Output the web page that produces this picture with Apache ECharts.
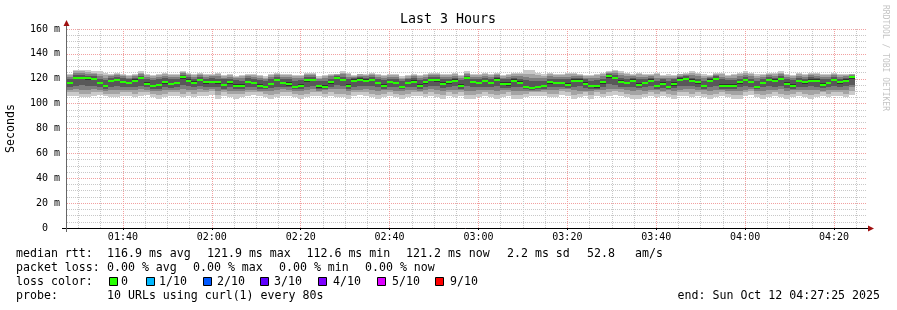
<!DOCTYPE html>
<html><head><meta charset="utf-8">
<script src="https://cdn.jsdelivr.net/npm/echarts@6/dist/echarts.min.js"></script>
<style>html,body{margin:0;padding:0;background:#fff}#c{width:897px;height:310px}</style>
</head><body><div id="c"></div>
<script>
// ---------- data ----------
const chartTitle = 'Last 3 Hours';
const startTime = '01:27:25';
const endTime = '04:27:25';
const stepSeconds = 80;
const timeTickLabels = ['01:40','02:00','02:20','02:40','03:00','03:20','03:40','04:00','04:20'];

const median = [116.6,120.7,120.7,120.5,119.9,116.4,113.9,118.0,119.3,117.7,
116.9,118.5,120.4,115.8,113.9,115.0,117.2,115.8,116.6,121.2,
118.5,116.9,119.0,117.2,117.2,117.2,115.0,117.2,114.5,114.5,
117.7,116.4,114.5,113.1,115.8,119.0,116.6,115.8,113.1,114.5,
119.0,119.0,113.9,113.6,117.2,120.7,119.0,114.5,118.5,119.3,
118.5,119.3,116.4,114.5,117.4,116.6,113.6,116.4,117.7,114.5,
117.2,119.0,119.0,115.8,117.2,118.5,114.5,120.7,117.2,116.4,
118.0,116.4,119.3,115.8,115.8,118.5,116.9,113.1,112.6,113.1,
113.9,117.2,116.4,116.6,115.3,118.5,118.5,115.8,113.9,113.9,
117.2,121.9,120.7,117.7,116.4,118.5,115.3,116.4,118.5,113.9,
115.8,113.6,115.8,119.3,119.9,118.5,117.2,113.9,118.5,119.9,
114.5,114.5,114.5,117.2,119.0,117.2,113.1,116.4,119.0,118.5,
119.9,115.8,114.5,118.0,117.2,118.5,118.5,115.3,116.4,119.0,
117.2,118.5,121.2];

// sorted ping values per step (1 = fastest ... 10 = slowest)
const ping1 = [106,106,105,105,106,107,106,105,105,106,
106,105,106,107,105,104,105,106,106,105,
106,105,106,106,107,104,106,105,104,105,
106,107,106,105,104,105,106,106,105,104,
105,106,106,105,106,105,105,104,106,107,
106,105,104,105,106,105,104,105,106,106,
105,106,105,104,106,105,106,104,104,105,
106,105,104,105,106,104,104,105,106,106,
106,105,105,107,106,104,105,106,104,106,
105,106,107,106,105,104,104,105,106,105,
106,105,104,106,106,105,106,105,104,105,
106,105,104,104,106,107,105,104,105,106,
105,104,105,106,105,104,105,106,105,106,
106,105,107];
const ping2 = [109,109,108,108,109,109,108,108,108,109,
109,108,109,109,108,107,108,109,109,108,
109,108,109,109,110,107,109,108,108,108,
109,109,109,108,107,108,109,109,108,107,
108,109,109,108,109,108,108,107,109,109,
109,108,107,108,109,108,107,108,109,109,
108,109,108,107,109,108,109,107,107,108,
109,108,107,108,109,107,107,108,109,109,
109,108,108,110,109,107,108,109,107,109,
108,109,110,109,108,107,107,108,109,108,
109,108,107,109,109,108,109,108,107,108,
109,108,107,107,109,110,108,107,108,109,
108,107,108,109,108,107,108,109,108,109,
109,108,110];
const ping3 = [111,112,111,111,112,111,110,111,111,111,
111,111,112,111,110,110,111,111,111,112,
111,111,112,111,112,110,111,110,110,110,
111,111,110,110,110,111,112,111,110,110,
111,112,110,111,112,112,112,110,111,111,
112,111,110,111,111,110,110,111,111,110,
111,112,111,110,111,111,111,110,110,111,
111,111,110,111,111,110,110,110,110,110,
111,111,111,112,112,111,110,110,110,111,
111,112,112,112,111,110,111,110,111,111,
110,111,110,111,112,112,111,111,110,111,
111,110,110,110,111,112,110,110,111,111,
112,110,111,111,111,111,111,110,111,111,
111,111,113];
const ping4 = [113.5,114.5,115,114,114.5,113,112,113.5,114,113,
113.5,113,114.5,113,111.5,112,113,112.5,113,115,
114,113,114,113.5,113,113.5,112,113,112,111.5,
113,113,112,111.5,112.5,113.5,113.5,113,111.5,112,
113.5,114,112,112,113.5,115,114.5,112,113.5,114,
114,114.5,113,112,113,113,112,113,113.5,112,
113,114,114,112.5,113,114,112,114.5,113.5,113,
113.5,113,114,112.5,112.5,113.5,113,111.5,111,111.5,
112,113,113,113.5,112.5,113.5,114,112.5,112,112,
113,115.5,115,113.5,113,113.5,112.5,113,114,112,
112.5,112,112.5,114,114.5,114,113,112,113.5,114.5,
112,112,112,113,114,113.5,111.5,113,114,113.5,
114.5,112.5,112,113.5,113,114,113.5,112.5,113,114,
113,114,115];
const ping5 = [115.5,119.5,120,119,119,115.5,113,117,118,116.5,
116,117.5,119.5,115,113,114,116,115,115.5,120,
117.5,116,118,116,116.5,116,114,116,113.5,113.5,
116.5,115.5,113.5,112.3,115,118,115.5,114.5,112.3,113.5,
117.5,118,112.8,112.6,116,119.5,118,113.5,117.5,118,
117.5,118,115.5,113.5,116.5,115.5,112.7,115.5,116.5,113.5,
116,118,117.5,115,116,117.5,113.5,119.5,116.5,115.5,
117,115.5,118,115,114.5,117.5,116,112.3,111.8,112.3,
113,116,115.5,115.5,114.5,117.5,117.5,115,113,112.8,
116,120.5,119.5,116.5,115.5,117.5,114.5,115.5,117.5,113,
115,112.7,114.5,118,119,117.5,116,113,117.5,119,
113.5,113.5,113.5,116,118,116.5,112.3,115.5,118,117.5,
119,115,113.5,117,116,117.5,117.5,114.5,115.5,118,
116,117.5,120];
const ping6 = [117.5,121.5,121.5,121.5,120.5,117.5,115,119,120,118.5,
117.5,119.5,121,117,115,116,118,116.5,117.5,122,
119.5,118,120,118,118.5,118,116,118,115.5,115.5,
118.5,117.5,115.5,114,116.5,120,117.5,117,114.5,115.5,
120,120,115,115,118,121.5,120,116,119.5,120.5,
119.5,120,117.5,115.5,118.5,117.5,114.5,117.5,119,115.5,
118,120,120,117,118.5,119.5,115.5,121.5,118,117.5,
119,117.5,120.5,117,117,119.5,118,114,113.5,114,
115,118.5,117.5,117.5,116.5,119.5,119.5,117,115,115,
118,122.5,121.5,119,117.5,119.5,116.5,117.5,119.5,115,
117,114.5,117,120.5,121,119.5,118.5,115,119.5,121,
115.5,115.5,116,118,120,118.5,114,117.5,120,119.5,
121,117,115.5,119,118.5,119.5,119.5,116.5,117.5,120,
118.5,119.5,122];
const ping7 = [120,123,123,122.5,122,120,119,121,121.5,120.5,
119.5,121,122.5,119.5,119,119.5,120.5,119.5,120,123,
121.5,120,121.5,120,120.5,120,119.5,120,119,118.5,
120.5,119.5,119,118,119.5,121.5,120,119.5,118.5,119,
121.5,121.5,118.5,118.5,120,122,121.5,119.5,120.5,121.5,
121,121.5,120,119,120,120,118.5,119.5,120.5,119,
120,121.5,121.5,119.5,120,121,119,122.5,120,119.5,
121,119.5,121.5,119.5,119.5,121,120,119,118.5,118.5,
118.5,120,119.5,120,119.5,121,121,119.5,118.5,119,
120,123.5,123,121,120,121,119.5,119.5,121,118.5,
119.5,118.5,119.5,121.5,122,121,120,118.5,120.5,122,
119.5,119,119,120,121.5,120,118.5,119.5,121.5,121,
122,119.5,119,121,120,121.5,121,119.5,119.5,121.5,
120,121,122.5];
const ping8 = [121.5,124.5,125,124,123.5,122,121,122,123,122,
121,122,124,121.5,120.5,121.5,122,121.5,121.5,124.5,
123,121.5,123,121.5,122,122,121,121.5,120.5,120.5,
122,121.5,120.5,120,121.5,123,121.5,121.5,120.5,120.5,
123,123,120,120.5,122,123,123.5,121.5,121.5,122.5,
122,123,121.5,120.5,121.5,121.5,120,121,122,120.5,
121.5,123,123,121.5,121.5,122.5,120.5,124,121.5,121.5,
122.5,121.5,123,121,121.5,122.5,122,121.5,121,120.5,
120.5,122,121.5,121.5,121.5,122.5,122,121,120.5,121,
122,124.5,124.5,123,122,122,121.5,121.5,122,121,
121,120.5,121,122.5,123,123,122,120.5,121.5,123,
121.5,120.5,121,122,123,122,120.5,121.5,123,122.5,
123.5,121.5,120.5,122.5,121.5,123,122.5,121.5,121.5,123,
121.5,122,123];
const ping9 = [123,126,126,125.5,125,124,123,123,124,123,
122,123,125,123,122,123,124,123,123,125.5,
124,123,124,123,123,124,122,123,121.5,122,
123,123,122,121,123,124,123,123,122,122,
124,124,121,122,123,123.5,125,123.5,122.5,123.5,
123,124,123,122,123,123,121,122,123,122,
123,124,124,123,123,124,122,125,123,123,
124,123,124,122,123,124,124,124,124,123,
122.5,123.5,123,123,123.5,124,123,122,122,123,
124,125.5,126,124.5,124,123,123.5,123,123,123.5,
122,122.5,122,123.5,124,124.5,123.5,122.5,122.5,124,
123.5,122,123,123.5,124.5,123.5,122.5,123,124,124,
125,123,122,124,123,124,124,123,123,124,
123,123,123.5];
const ping10 = [124,127,127,127,126,126,125,124,125,124,
123,124,126,124,123,124,125,124,124,126,
125,124,125,124,124,125,123,124,122,123,
124,124,123,122,124,125,124,124,123,123,
125,125,122,123,124,124,126,125,123,124,
124,125,124,123,124,124,122,123,124,123,
124,125,125,124,124,125,123,126,124,124,
125,124,125,123,124,125,125,127,127,125,
124,125,124,124,125,125,124,123,123,124,
125,126,127,126,125,124,125,124,124,125,
123,124,123,124,125,126,125,124,123,125,
125,123,124,125,126,125,124,124,125,125,
126,124,123,125,124,125,125,124,124,125,
124,124,124];

const statsRtt = ['116.9 ms avg','121.9 ms max','112.6 ms min','121.2 ms now','2.2 ms sd','52.8','am/s'];
const statsLoss = ['0.00 % avg','0.00 % max','0.00 % min','0.00 % now'];
const lossLabels = ['0','1/10','2/10','3/10','4/10','5/10','9/10'];
const lossColors = ['#26ff00','#00b8ff','#0059ff','#5e00ff','#7e00ff','#dd00ff','#ff0000'];
const probeText = '10 URLs using curl(1) every 80s';
const endText = 'end: Sun Oct 12 04:27:25 2025';

// ---------- helpers ----------
function toSec(s){const p=s.split(':').map(Number);return p[0]*3600+p[1]*60+(p[2]||0);}
function fmt(sec){const h=Math.floor(sec/3600),m=Math.floor((sec%3600)/60);return String(h).padStart(2,'0')+':'+String(m).padStart(2,'0');}
const t0 = toSec(startTime), t1 = toSec(endTime);
const majorX = timeTickLabels.map(toSec);
const minorX = [];
for (let s = Math.ceil(t0/300)*300; s < t1; s += 300) if (s % 1200 !== 0) minorX.push(s);

const pings = [ping1,ping2,ping3,ping4,ping5,ping6,ping7,ping8,ping9,ping10];
const smokeData = median.map((m,i)=>[t0 + i*stepSeconds].concat(pings.map(a=>a[i])));
const medianData = median.map((m,i)=>[t0 + i*stepSeconds, m]);
const smokeColors = ['#cacaca','#a4a4a4','#7e7e7e','#585858','#323232'];

const G = {left:67, top:29, width:800, height:199};
const FONT = '"DejaVu Sans Mono", monospace';
const LEG = '11.6px ' + FONT;

function renderSmoke(params, api){
  const t = api.value(0);
  const xa = Math.round(api.coord([t,0])[0]);
  const xb = Math.round(api.coord([t+stepSeconds,0])[0]);
  const ch = [];
  for (let k=0;k<5;k++){
    const lo = api.value(1+k), hi = api.value(10-k);
    const yl = Math.round(api.coord([t,lo])[1]), yh = Math.round(api.coord([t,hi])[1]);
    ch.push({type:'rect', shape:{x:xa,y:yh,width:xb-xa,height:yl-yh}, style:{fill:smokeColors[k]}});
  }
  return {type:'group', children:ch};
}
function renderMedian(params, api){
  const t = api.value(0), m = api.value(1);
  const xa = Math.round(api.coord([t,0])[0]);
  const xb = Math.round(api.coord([t+stepSeconds,0])[0]);
  const ya = Math.round(api.coord([t,m+0.85])[1]);
  const yb = Math.round(api.coord([t,m-0.85])[1]);
  return {type:'rect', shape:{x:xa,y:ya,width:xb-xa,height:yb-ya}, style:{fill:lossColors[0]}};
}

// ---------- graphics (text / decoration) ----------
const gx = [];
function txt(x,y,s,opt){gx.push({type:'text', x:x, y:y, silent:true, style:Object.assign({text:s, font:LEG, fill:'#000', align:'left', verticalAlign:'middle'}, opt||{})});}
const L1=254, L2=268, L3=282, L4=296;
txt(16,L1,'median rtt:');
[107,207,306.5,406,507,587,635].forEach((x,i)=>txt(x,L1,statsRtt[i]));
txt(16,L2,'packet loss:');
[107,193,279,365].forEach((x,i)=>txt(x,L2,statsLoss[i]));
txt(16,L3,'loss color:');
const boxX = [109,146,203,260,318,377,435];
const boxLabelX = [121,159,217,274,333,392,450];
boxX.forEach((x,i)=>{
  gx.push({type:'rect', silent:true, shape:{x:x+0.5,y:277.5,width:8,height:8}, style:{fill:lossColors[i], stroke:'#000', lineWidth:1}});
  txt(boxLabelX[i],L3,lossLabels[i]);
});
txt(16,L4,'probe:');
txt(107,L4,probeText);
txt(880,L4,endText,{align:'right'});
// title
txt(448,20,chartTitle,{font:'13.3px '+FONT, align:'center'});
// watermark
gx.push({type:'text', x:885, y:5, rotation:-Math.PI/2, silent:true, style:{text:'RRDTOOL / TOBI OETIKER', font:'8px '+FONT, fill:'#c4c4c4', align:'left', verticalAlign:'middle'}});
// axes lines and arrows
const xb0 = G.top + G.height;
gx.push({type:'line', silent:true, z:10, shape:{x1:G.left-5, y1:xb0+0.5, x2:G.left+G.width+2, y2:xb0+0.5}, style:{stroke:'#000', lineWidth:1}});
gx.push({type:'polygon', silent:true, z:10, shape:{points:[[G.left+G.width+1,xb0-2.5],[G.left+G.width+7,xb0+0.5],[G.left+G.width+1,xb0+3.5]]}, style:{fill:'#a01010'}});
gx.push({type:'line', silent:true, z:10, shape:{x1:G.left-0.5, y1:xb0+4, x2:G.left-0.5, y2:G.top-4}, style:{stroke:'#666', lineWidth:1}});
gx.push({type:'polygon', silent:true, z:10, shape:{points:[[G.left-3.5,G.top-3],[G.left-0.5,G.top-9],[G.left+2.5,G.top-3]]}, style:{fill:'#a01010'}});

const chart = echarts.init(document.getElementById('c'), null, {renderer:'canvas'});
chart.setOption({
  animation:false,
  backgroundColor:'#ffffff',
  grid:{left:G.left, top:G.top, width:G.width, height:G.height, containLabel:false, outerBoundsMode:'none'},
  xAxis:[{
    type:'value', min:t0, max:t1, gridIndex:0, position:'bottom',
    axisLine:{show:false}, axisLabel:{show:false},
    axisTick:{show:false, customValues:minorX},
    splitLine:{show:true, lineStyle:{color:'#c8c8c8', width:1, type:[1,1]}}
  },{
    type:'value', min:t0, max:t1, gridIndex:0, position:'bottom', offset:0,
    axisLine:{show:false},
    axisTick:{show:true, length:2, customValues:majorX, lineStyle:{color:'#000'}},
    axisLabel:{show:true, customValues:majorX, formatter:v=>fmt(v), margin:4, color:'#000', fontSize:10, fontFamily:FONT},
    splitLine:{show:true, lineStyle:{color:'#f2a0a0', width:1, type:[1,1]}}
  }],
  yAxis:[{
    type:'value', min:0, max:160, interval:20,
    name:'Seconds', nameLocation:'middle', nameGap:50, nameRotate:90,
    nameTextStyle:{fontFamily:FONT, fontSize:11.6, color:'#000'},
    axisLine:{show:false}, axisTick:{show:false},
    axisLabel:{formatter:v=>v===0?'0  ':v+' m', margin:7, color:'#000', fontSize:10, fontFamily:FONT},
    splitLine:{show:true, lineStyle:{color:'#f2a0a0', width:1, type:[1,1]}},
    minorTick:{show:false, splitNumber:4},
    minorSplitLine:{show:true, lineStyle:{color:'#c8c8c8', width:1, type:[1,1]}}
  }],
  series:[
    {type:'custom', xAxisIndex:1, yAxisIndex:0, data:smokeData, renderItem:renderSmoke, encode:{x:0,y:1}, clip:true, silent:true},
    {type:'custom', xAxisIndex:1, yAxisIndex:0, data:medianData, renderItem:renderMedian, encode:{x:0,y:1}, clip:true, silent:true, z:3}
  ],
  graphic:gx
});
</script></body></html>
